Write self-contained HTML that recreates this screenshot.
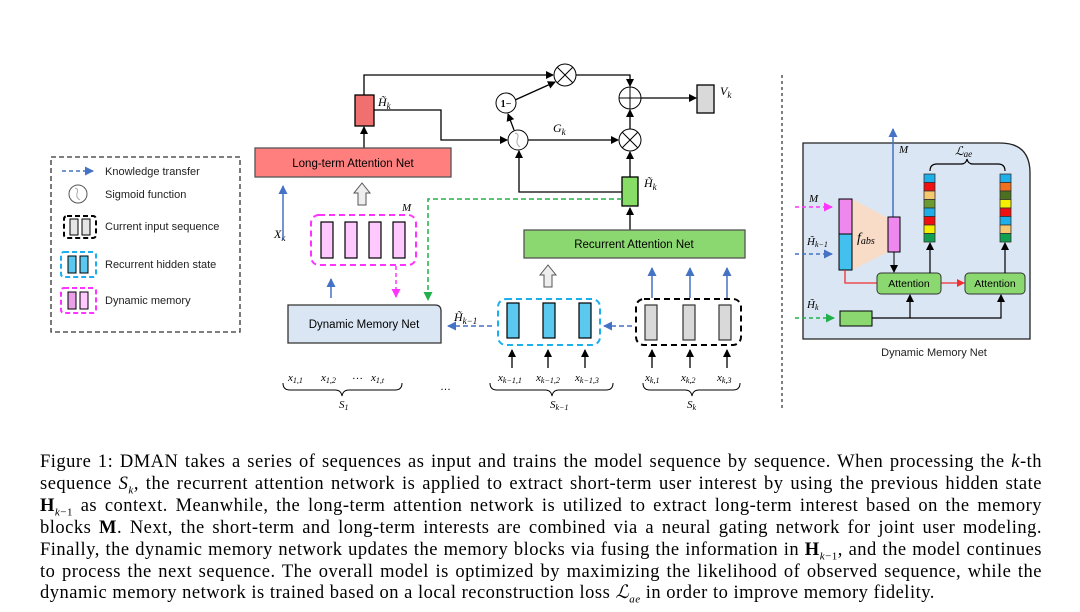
<!DOCTYPE html>
<html><head><meta charset="utf-8"><style>
body{margin:0;background:#fff;width:1080px;height:612px;overflow:hidden;position:relative;font-family:"Liberation Sans",sans-serif}
svg{position:absolute;left:0;top:0}
.cap{position:absolute;left:40px;width:1002px;font-family:"Liberation Serif",serif;font-size:18.5px;line-height:22px;text-align:justify;text-align-last:justify;white-space:nowrap;letter-spacing:0.5px}
.cap.last{text-align-last:left}
i{font-style:italic}
</style></head><body>
<svg width="1080" height="612" viewBox="0 0 1080 612" font-family="Liberation Sans, sans-serif">
<defs>
<marker id="a" markerWidth="8" markerHeight="8" refX="7" refY="4" orient="auto" markerUnits="userSpaceOnUse"><path d="M0,0 L8,4 L0,8z" fill="#000"/></marker>
<marker id="b" markerWidth="9" markerHeight="9" refX="8" refY="4.5" orient="auto" markerUnits="userSpaceOnUse"><path d="M0,0 L9,4.5 L0,9z" fill="#4472c4"/></marker>
<marker id="m" markerWidth="9" markerHeight="9" refX="8" refY="4.5" orient="auto" markerUnits="userSpaceOnUse"><path d="M0,0 L9,4.5 L0,9z" fill="#ff33ff"/></marker>
<marker id="g" markerWidth="9" markerHeight="9" refX="8" refY="4.5" orient="auto" markerUnits="userSpaceOnUse"><path d="M0,0 L9,4.5 L0,9z" fill="#22b04c"/></marker>
<marker id="r" markerWidth="8" markerHeight="8" refX="7" refY="4" orient="auto" markerUnits="userSpaceOnUse"><path d="M0,0 L8,4 L0,8z" fill="#f03030"/></marker>
</defs>
<g stroke="#000" stroke-width="1.3" fill="none">
<polyline points="364,95 364,75 553,75" marker-end="url(#a)"/>
<polyline points="374,110 441,110 441,140 507,140" marker-end="url(#a)"/>
<line x1="528" y1="140" x2="618" y2="140" marker-end="url(#a)"/>
<line x1="514" y1="130" x2="508" y2="114" marker-end="url(#a)"/>
<line x1="515" y1="100" x2="555" y2="82" marker-end="url(#a)"/>
<polyline points="576,75 630,75 630,86" marker-end="url(#a)"/>
<line x1="630" y1="129" x2="630" y2="110" marker-end="url(#a)"/>
<line x1="641" y1="98" x2="696" y2="98" marker-end="url(#a)"/>
<line x1="630" y1="177" x2="630" y2="152" marker-end="url(#a)"/>
<polyline points="622,192 519,192 519,151" marker-end="url(#a)"/>
<line x1="364" y1="148" x2="364" y2="127" marker-end="url(#a)"/>
<line x1="630" y1="230" x2="630" y2="208" marker-end="url(#a)"/>
</g>
<circle cx="565" cy="75" r="11" fill="#fff" stroke="#000"/>
<path d="M557,67 L573,83 M573,67 L557,83" stroke="#000"/>
<circle cx="630" cy="140" r="11" fill="#fff" stroke="#000"/>
<path d="M622,132 L638,148 M638,132 L622,148" stroke="#000"/>
<circle cx="630" cy="98" r="11" fill="#fff" stroke="#000"/>
<path d="M619,98 L641,98 M630,87 L630,109" stroke="#000"/>
<circle cx="506" cy="103" r="10" fill="#fff" stroke="#000"/>
<text x="506" y="107" font-size="10" font-weight="bold" text-anchor="middle" font-family="Liberation Serif,serif">1−</text>
<circle cx="518" cy="140" r="10" fill="#fff" stroke="#000"/>
<path d="M515,133 C523,135 512,141 520,147" stroke="#aaa" fill="none"/>
<rect x="355" y="95" width="19" height="31" fill="#f07070" stroke="#000" stroke-width="1.3"/>
<rect x="697" y="85" width="17" height="28" fill="#d9d9d9" stroke="#000" stroke-width="1.3"/>
<rect x="622" y="177" width="16" height="29" fill="#88dd66" stroke="#000" stroke-width="1.3"/>
<g font-family="Liberation Serif,serif" font-style="italic" font-size="12">
<text x="378" y="106">H̃<tspan font-size="9" dy="3">k</tspan></text>
<text x="720" y="95">V<tspan font-size="9" dy="3">k</tspan></text>
<text x="553" y="132">G<tspan font-size="9" dy="3">k</tspan></text>
<text x="644" y="187">H̃<tspan font-size="9" dy="3">k</tspan></text>
<text x="274" y="238">X<tspan font-size="9" dy="3">k</tspan></text>
<text x="402" y="211" font-size="11">M</text>
<text x="454" y="321">H̃<tspan font-size="9" dy="3">k−1</tspan></text>
</g>
<rect x="255" y="148" width="196" height="29" fill="#ff7f7f" stroke="#555" stroke-width="1.3"/>
<text x="353" y="167" font-size="11.5" text-anchor="middle">Long-term Attention Net</text>
<line x1="283" y1="240" x2="283" y2="186" stroke="#4472c4" stroke-width="1.5" marker-end="url(#b)"/>
<path d="M358,205 L358,193 L354,193 L362,183 L370,193 L366,193 L366,205Z" fill="#eee" stroke="#555"/>
<path d="M544,287 L544,275 L540,275 L548,265 L556,275 L552,275 L552,287Z" fill="#eee" stroke="#555"/>
<polyline points="622,199 428,199 428,300" fill="none" stroke="#22b04c" stroke-width="1.5" stroke-dasharray="5,3" marker-end="url(#g)"/>
<rect x="311" y="215" width="105" height="50" rx="8" fill="none" stroke="#ff33ff" stroke-width="2" stroke-dasharray="6,4"/>
<g fill="#ffc8ff" stroke="#000" stroke-width="1.2">
<rect x="321" y="222" width="12" height="36"/><rect x="345" y="222" width="12" height="36"/><rect x="369" y="222" width="12" height="36"/><rect x="393" y="222" width="12" height="36"/></g>
<line x1="331" y1="298" x2="331" y2="279" stroke="#4472c4" stroke-width="1.5" marker-end="url(#b)"/>
<line x1="396" y1="266" x2="396" y2="297" stroke="#ff33ff" stroke-width="1.5" stroke-dasharray="4,3" marker-end="url(#m)"/>
<path d="M288,305 H435 Q441,305 441,311 V343 H288Z" fill="#dae6f3" stroke="#333" stroke-width="1.3"/>
<text x="364" y="328" font-size="11.5" text-anchor="middle">Dynamic Memory Net</text>
<line x1="492" y1="326" x2="448" y2="326" stroke="#4472c4" stroke-width="1.5" stroke-dasharray="5,3" marker-end="url(#b)"/>
<line x1="632" y1="326" x2="604" y2="326" stroke="#4472c4" stroke-width="1.5" stroke-dasharray="5,3" marker-end="url(#b)"/>
<rect x="498" y="299" width="102" height="46" rx="8" fill="none" stroke="#1ab0ee" stroke-width="2" stroke-dasharray="6,4"/>
<g fill="#5bc8f0" stroke="#000" stroke-width="1.2"><rect x="507" y="303" width="12" height="35"/><rect x="543" y="303" width="12" height="35"/><rect x="579" y="303" width="12" height="35"/></g>
<rect x="636" y="299" width="105" height="46" rx="8" fill="none" stroke="#000" stroke-width="2" stroke-dasharray="6,4"/>
<g fill="#d9d9d9" stroke="#333" stroke-width="1.2"><rect x="645" y="305" width="12" height="35"/><rect x="683" y="305" width="12" height="35"/><rect x="719" y="305" width="12" height="35"/></g>
<g stroke="#4472c4" stroke-width="1.5"><line x1="652" y1="298" x2="652" y2="268" marker-end="url(#b)"/><line x1="690" y1="298" x2="690" y2="268" marker-end="url(#b)"/><line x1="727" y1="298" x2="727" y2="268" marker-end="url(#b)"/></g>
<rect x="524" y="230" width="221" height="28" fill="#8cd870" stroke="#555" stroke-width="1.3"/>
<text x="634" y="248" font-size="11.5" text-anchor="middle">Recurrent Attention Net</text>
<g stroke="#000" stroke-width="1.3"><line x1="512" y1="368" x2="512" y2="350" marker-end="url(#a)"/><line x1="548" y1="368" x2="548" y2="350" marker-end="url(#a)"/><line x1="585" y1="368" x2="585" y2="350" marker-end="url(#a)"/><line x1="652" y1="368" x2="652" y2="350" marker-end="url(#a)"/><line x1="690" y1="368" x2="690" y2="350" marker-end="url(#a)"/><line x1="727" y1="368" x2="727" y2="350" marker-end="url(#a)"/></g>
<g font-family="Liberation Serif,serif" font-style="italic" font-size="11">
<text x="288" y="381">x<tspan font-size="8" dy="2">1,1</tspan></text>
<text x="321" y="381">x<tspan font-size="8" dy="2">1,2</tspan></text>
<text x="352" y="379" font-style="normal">…</text>
<text x="371" y="381">x<tspan font-size="8" dy="2">1,t</tspan></text>
<text x="498" y="381">x<tspan font-size="8" dy="2">k−1,1</tspan></text>
<text x="536" y="381">x<tspan font-size="8" dy="2">k−1,2</tspan></text>
<text x="575" y="381">x<tspan font-size="8" dy="2">k−1,3</tspan></text>
<text x="645" y="381">x<tspan font-size="8" dy="2">k,1</tspan></text>
<text x="681" y="381">x<tspan font-size="8" dy="2">k,2</tspan></text>
<text x="717" y="381">x<tspan font-size="8" dy="2">k,3</tspan></text>
<text x="339" y="408">S<tspan font-size="8" dy="2">1</tspan></text>
<text x="550" y="408">S<tspan font-size="8" dy="2">k−1</tspan></text>
<text x="687" y="408">S<tspan font-size="8" dy="2">k</tspan></text>
</g>
<text x="440" y="390" font-size="11">…</text>
<g fill="none" stroke="#000" stroke-width="1">
<path d="M283,383 Q283,390 290,390 H335 Q341,390 342,396 Q343,390 349,390 H395 Q402,390 402,383"/>
<path d="M490,383 Q490,390 497,390 H545 Q551,390 552,396 Q553,390 559,390 H606 Q613,390 613,383"/>
<path d="M643,383 Q643,390 650,390 H685 Q691,390 692,396 Q693,390 699,390 H733 Q740,390 740,383"/>
</g>
<line x1="782" y1="75" x2="782" y2="410" stroke="#000" stroke-dasharray="3,3"/>
<rect x="51" y="157" width="189" height="175" fill="none" stroke="#333" stroke-width="1.3" stroke-dasharray="5,3"/>
<line x1="62" y1="171" x2="93" y2="171" stroke="#4472c4" stroke-width="1.5" stroke-dasharray="4,3" marker-end="url(#b)"/>
<circle cx="78" cy="194" r="9" fill="#fff" stroke="#555"/>
<path d="M75,188 C82,190 72,195 80,200" stroke="#aaa" fill="none"/>
<rect x="64" y="216" width="32" height="22" rx="3" fill="none" stroke="#000" stroke-width="2" stroke-dasharray="5,3"/>
<rect x="70" y="219" width="8" height="16" fill="#e5e5e5" stroke="#000"/><rect x="82" y="219" width="8" height="16" fill="#e5e5e5" stroke="#000"/>
<rect x="61" y="252" width="35" height="25" rx="3" fill="none" stroke="#1ab0ee" stroke-width="2" stroke-dasharray="5,3"/>
<rect x="68" y="256" width="8" height="17" fill="#5bc8f0" stroke="#000"/><rect x="80" y="256" width="8" height="17" fill="#5bc8f0" stroke="#000"/>
<rect x="61" y="288" width="35" height="25" rx="3" fill="none" stroke="#ff33ff" stroke-width="2" stroke-dasharray="5,3"/>
<rect x="68" y="292" width="8" height="17" fill="#e9a0e9" stroke="#000"/><rect x="80" y="292" width="8" height="17" fill="#ffc8ff" stroke="#000"/>
<g font-size="11" fill="#222">
<text x="105" y="175">Knowledge transfer</text>
<text x="105" y="198">Sigmoid function</text>
<text x="105" y="230">Current input sequence</text>
<text x="105" y="268">Recurrent hidden state</text>
<text x="105" y="304">Dynamic memory</text>
</g>
<path d="M803,143 H1000 Q1030,143 1030,173 V339 H803Z" fill="#dae6f3" stroke="#222" stroke-width="1.3"/>
<line x1="893" y1="217" x2="893" y2="129" stroke="#4472c4" stroke-width="1.5" marker-end="url(#b)"/>
<path d="M852,199 L888,218 L888,252 L852,270Z" fill="#f9dcc8"/>
<rect x="839" y="199" width="13" height="35" fill="#ee88ee" stroke="#000"/>
<rect x="839" y="234" width="13" height="36" fill="#44c0ee" stroke="#000"/>
<rect x="888" y="217" width="12" height="35" fill="#ee88ee" stroke="#000"/>
<line x1="894" y1="252" x2="894" y2="272" stroke="#000" marker-end="url(#a)"/>
<polyline points="845,270 845,283 877,283" fill="none" stroke="#f03030" stroke-width="1.3"/>
<line x1="941" y1="283" x2="964" y2="283" stroke="#f03030" stroke-width="1.3" marker-end="url(#r)"/>
<rect x="877" y="273" width="64" height="21" rx="4" fill="#8cd870" stroke="#333"/>
<rect x="965" y="273" width="60" height="21" rx="4" fill="#8cd870" stroke="#333"/>
<text x="909" y="287" font-size="10.5" text-anchor="middle">Attention</text>
<text x="995" y="287" font-size="10.5" text-anchor="middle">Attention</text>
<g stroke="#333" stroke-width="0.8">
<rect x="924" y="174" width="11" height="8.5" fill="#1eaee8"/><rect x="924" y="182.5" width="11" height="8.5" fill="#f01010"/><rect x="924" y="191" width="11" height="8.5" fill="#f5c870"/><rect x="924" y="199.5" width="11" height="8.5" fill="#6a9a30"/><rect x="924" y="208" width="11" height="8.5" fill="#1eaee8"/><rect x="924" y="216.5" width="11" height="8.5" fill="#f01010"/><rect x="924" y="225" width="11" height="8.5" fill="#f5f000"/><rect x="924" y="233.5" width="11" height="8.5" fill="#10a050"/>
<rect x="1000" y="174" width="11" height="8.5" fill="#1eaee8"/><rect x="1000" y="182.5" width="11" height="8.5" fill="#f07020"/><rect x="1000" y="191" width="11" height="8.5" fill="#4a7020"/><rect x="1000" y="199.5" width="11" height="8.5" fill="#f5f000"/><rect x="1000" y="208" width="11" height="8.5" fill="#f01010"/><rect x="1000" y="216.5" width="11" height="8.5" fill="#1eaee8"/><rect x="1000" y="225" width="11" height="8.5" fill="#f5c870"/><rect x="1000" y="233.5" width="11" height="8.5" fill="#10a050"/>
</g>
<g stroke="#000" stroke-width="1.2" fill="none">
<line x1="930" y1="273" x2="930" y2="243" marker-end="url(#a)"/>
<line x1="1005" y1="273" x2="1005" y2="243" marker-end="url(#a)"/>
<polyline points="872,318 1001,318 1001,295" marker-end="url(#a)"/>
<line x1="910" y1="318" x2="910" y2="295" marker-end="url(#a)"/>
<path d="M930,171 Q930,164 937,164 H961 Q966,164 967,159 Q968,164 973,164 H998 Q1005,164 1005,171"/>
</g>
<rect x="840" y="311" width="32" height="15" fill="#8cd870" stroke="#000"/>
<line x1="795" y1="207" x2="832" y2="207" stroke="#ff33ff" stroke-width="1.5" stroke-dasharray="4,3" marker-end="url(#m)"/>
<line x1="795" y1="254" x2="832" y2="254" stroke="#4472c4" stroke-width="1.5" stroke-dasharray="4,3" marker-end="url(#b)"/>
<line x1="795" y1="318" x2="834" y2="318" stroke="#22b04c" stroke-width="1.5" stroke-dasharray="4,3" marker-end="url(#g)"/>
<g font-family="Liberation Serif,serif" font-style="italic" font-size="11">
<text x="899" y="153">M</text>
<text x="809" y="202">M</text>
<text x="807" y="245">H̃<tspan font-size="8" dy="2">k−1</tspan></text>
<text x="807" y="308">H̃<tspan font-size="8" dy="2">k</tspan></text>
<text x="857" y="242" font-size="14">f<tspan font-size="10" dy="2">abs</tspan></text>
<text x="955" y="155" font-size="12">ℒ<tspan font-size="9" dy="2">ae</tspan></text>
</g>
<text x="934" y="356" font-size="11" text-anchor="middle" fill="#222">Dynamic Memory Net</text>
</svg>
<div class="cap" style="top:451px">Figure 1: DMAN takes a series of sequences as input and trains the model sequence by sequence. When processing the <i>k</i>-th</div>
<div class="cap" style="top:473px">sequence <i>S<sub style="font-size:11px">k</sub></i>, the recurrent attention network is applied to extract short-term user interest by using the previous hidden state</div>
<div class="cap" style="top:495px"><b>H</b><sub style="font-size:11px"><i>k</i>−1</sub> as context. Meanwhile, the long-term attention network is utilized to extract long-term interest based on the memory</div>
<div class="cap" style="top:517px">blocks <b>M</b>. Next, the short-term and long-term interests are combined via a neural gating network for joint user modeling.</div>
<div class="cap" style="top:539px">Finally, the dynamic memory network updates the memory blocks via fusing the information in <b>H</b><sub style="font-size:11px"><i>k</i>−1</sub>, and the model continues</div>
<div class="cap" style="top:561px">to process the next sequence. The overall model is optimized by maximizing the likelihood of observed sequence, while the</div>
<div class="cap last" style="top:582px">dynamic memory network is trained based on a local reconstruction loss <i>ℒ<sub style="font-size:11px">ae</sub></i> in order to improve memory fidelity.</div>
</body></html>
